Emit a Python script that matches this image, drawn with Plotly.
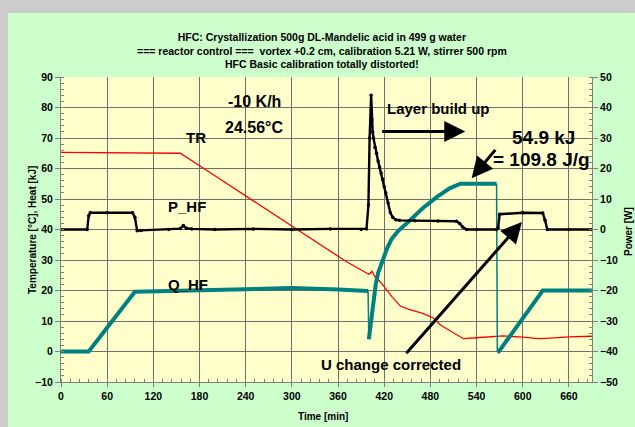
import plotly.graph_objects as go

# ---------------- data ----------------
# TR: reactor temperature [°C] (left axis)
tr_time = [0, 50, 100, 155, 200, 250, 300, 337, 370, 400, 402, 404, 406, 408, 415, 430, 441,
           450, 470, 484, 493, 510, 523, 540, 560, 575, 600, 620, 636, 660, 690]
tr_val = [65.3, 65.2, 65.1, 65.0, 57.6, 49.3, 41.0, 34.9, 29.6, 25.3, 25.6, 26.3, 25.2, 24.5, 22.8,
          18.0, 14.9, 14.0, 12.5, 11.0, 8.7, 6.0, 4.2, 4.5, 4.9, 5.1, 4.7, 4.2, 4.4, 4.8, 5.0]

# Q_HF: heat [kJ] (left axis), split into continuous parts and the two jumps
q1_time = [0, 36, 96, 150, 240, 300, 360, 399]
q1_val = [0, 0, 19.6, 20.0, 20.6, 20.8, 20.3, 19.8]
qjump1_time = [399, 400]
qjump1_val = [19.8, 4]
q2_time = [400, 401, 403, 406, 409, 412, 418, 424, 430, 438, 454, 470, 489, 505, 519, 540, 566]
q2_val = [4, 6, 11, 17, 22, 25.7, 30, 34, 37, 39.5, 43.1, 47, 50.8, 53.5, 55, 55.1, 55]
qjump2_time = [566, 567]
qjump2_val = [55, 0]
q3_time = [567, 569, 626, 690]
q3_val = [0, 0, 20, 20]

# P_HF: power [W] (right axis)
p_time = [0, 34, 36, 38, 60, 93, 96, 99, 104, 140, 155, 159, 163, 170, 200, 250, 300, 350, 390,
          397, 399.5, 401, 403, 404, 405, 406, 408, 410, 412, 414, 416, 418, 420, 422, 425, 428,
          431, 435, 440, 460, 490, 514, 518, 522, 527, 540, 566, 568, 570, 600, 626, 629, 632,
          660, 690]
p_val = [0, 0, 4.5, 5.5, 5.5, 5.5, 4, -0.4, -0.3, 0, 0.3, 1.3, 0.4, 0.2, 0, 0.2, 0, 0.2, 0,
         0.2, 8, 30, 44, 36, 32, 30, 27, 25, 22.5, 20.5, 18.5, 16.5, 14, 12, 8.7, 5.5,
         4, 3.2, 3, 2.9, 2.8, 2.7, 2, 0.8, 0, 0, 0, 0.5, 5, 5.5, 5.4, 3, 0,
         0, 0]

title_lines = ["HFC: Crystallization 500g DL-Mandelic acid in 499 g water",
               "=== reactor control ===  vortex +0.2 cm, calibration 5.21 W, stirrer 500 rpm",
               "HFC Basic calibration totally distorted!"]
x_ticks = list(range(0, 661, 60))
y_ticks = list(range(-10, 91, 10))
y2_ticks = list(range(-50, 51, 10))

# ---------------- figure ----------------
FONT = "Liberation Sans, Arial, sans-serif"
TEAL = "#008080"
fig = go.Figure()

fig.add_trace(go.Scatter(x=tr_time, y=tr_val, mode="lines", line=dict(color="#ff0000", width=1.3),
                         showlegend=False))
for tx, ty in [(q1_time, q1_val), (q2_time, q2_val), (q3_time, q3_val)]:
    fig.add_trace(go.Scatter(x=tx, y=ty, mode="lines", line=dict(color=TEAL, width=4),
                             showlegend=False))
for tx, ty in [(qjump1_time, qjump1_val), (qjump2_time, qjump2_val)]:
    fig.add_trace(go.Scatter(x=tx, y=ty, mode="lines", line=dict(color=TEAL, width=1.5),
                             showlegend=False))
fig.add_trace(go.Scatter(x=p_time, y=p_val, yaxis="y2", mode="lines+markers",
                         line=dict(color="#000000", width=2.4),
                         marker=dict(color="#000000", size=3.5), showlegend=False))

GRID = "#6e6e6e"
AX = "#808080"
tickfont = dict(family=FONT, size=10.5, color="#000000", weight="bold")

fig.update_layout(
    width=635, height=427,
    margin=dict(l=61, r=43, t=77, b=45),
    paper_bgcolor="#ccffcc", plot_bgcolor="#ffffcc",
    xaxis=dict(range=[0, 690], tickvals=x_ticks, showgrid=True, gridcolor=GRID, gridwidth=1,
               zeroline=False, showline=True, linecolor=AX, linewidth=1,
               ticks="outside", ticklen=4, tickcolor=AX, tickfont=tickfont,
               minor=dict(dtick=12, tick0=0, ticks="inside", ticklen=3, tickcolor=AX, showgrid=False)),
    yaxis=dict(range=[-10, 90], tickvals=y_ticks, showgrid=True, gridcolor=GRID, gridwidth=1,
               zeroline=False, showline=True, linecolor=AX, linewidth=1,
               ticks="outside", ticklen=5, tickcolor=AX, tickfont=tickfont,
               minor=dict(dtick=2, tick0=0, ticks="inside", ticklen=3, tickcolor=AX, showgrid=False)),
    yaxis2=dict(range=[-50, 50], tickvals=y2_ticks, overlaying="y", side="right", showgrid=False,
                zeroline=False, showline=True, linecolor=AX, linewidth=1,
                ticks="outside", ticklen=5, tickcolor=AX, tickfont=tickfont,
                minor=dict(dtick=2, tick0=0, ticks="inside", ticklen=3, tickcolor=AX, showgrid=False)),
)

# grey outer frame strips
fig.add_shape(type="rect", xref="paper", yref="paper", x0=-0.2, x1=(8 - 61) / 531, y0=-0.3, y1=1.4,
              fillcolor="#cccccc", line_width=0, layer="below")
fig.add_shape(type="rect", xref="paper", yref="paper", x0=-0.2, x1=1.2, y0=(382 - 13) / 305, y1=1.4,
              fillcolor="#cccccc", line_width=0, layer="below")

bold = lambda s, c="#000000": dict(family=FONT, size=s, color=c, weight="bold")

# title
fig.add_annotation(xref="paper", yref="paper", x=(322 - 61) / 531, y=(382 - 51) / 305,
                   text="<br>".join(title_lines), showarrow=False, font=bold(10.5),
                   xanchor="center", yanchor="middle", align="center")
# axis titles
fig.add_annotation(xref="paper", yref="paper", x=(32 - 61) / 531, y=(382 - 230) / 305,
                   text="Temperature [°C], Heat [kJ]", textangle=-90, showarrow=False, font=bold(10),
                   xanchor="center", yanchor="middle")
fig.add_annotation(xref="paper", yref="paper", x=(628 - 61) / 531, y=(382 - 232) / 305,
                   text="Power [W]", textangle=-90, showarrow=False, font=bold(10),
                   xanchor="center", yanchor="middle")
fig.add_annotation(xref="paper", yref="paper", x=(323 - 61) / 531, y=(382 - 417) / 305,
                   text="Time [min]", showarrow=False, font=bold(10),
                   xanchor="center", yanchor="middle")

# in-plot labels
labels = [("-10 K/h", 252, 82.1, 16), ("24.56°C", 251, 73.3, 16), ("TR", 175, 70.3, 15),
          ("P_HF", 164, 47.7, 15), ("Q_HF", 165, 22.1, 15), ("Layer build up", 490, 79.8, 15),
          ("54.9 kJ", 627, 70.3, 19), ("= 109.8 J/g", 625, 62.8, 19),
          ("U change corrected", 429, -4.1, 15)]
for txt, lx, ly, fs in labels:
    fig.add_annotation(x=lx, y=ly, xref="x", yref="y", text=txt, showarrow=False, font=bold(fs),
                       xanchor="center", yanchor="middle")

# arrows (tail -> head)
arrows = [(415.4, 72.1, 525.3, 72.1), (566, 66.6, 533.6, 56.8), (447, -1.1, 599, 42.5)]
for x0, y0, x1, y1 in arrows:
    fig.add_annotation(x=x1, y=y1, ax=x0, ay=y0, xref="x", yref="y", axref="x", ayref="y",
                       text="", showarrow=True, arrowhead=2, arrowsize=1.4, arrowwidth=3,
                       arrowcolor="#000000")

fig.write_html("out.html")
